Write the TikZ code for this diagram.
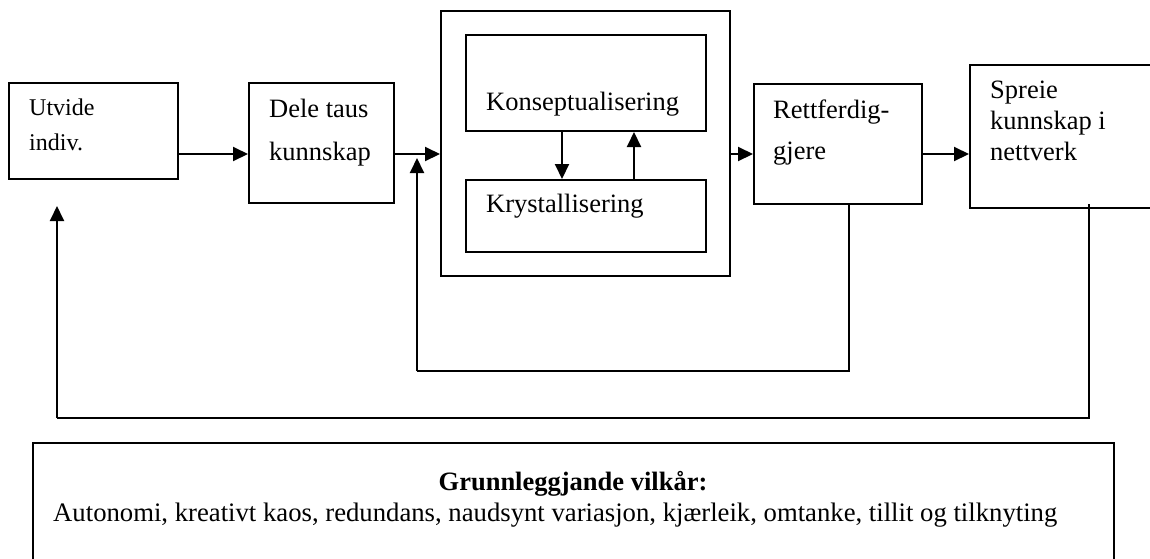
\documentclass[tikz,border=0pt]{standalone}
\usepackage{fontspec}
\setmainfont{Liberation Serif}
\usepackage{tikz}
\usetikzlibrary{positioning,calc,arrows.meta}

\begin{document}
\begin{tikzpicture}[x=1pt,y=-1pt, line cap=butt, line join=miter]
	% ===== ramme =====
	\useasboundingbox (0,0) rectangle (1150,558);
	
	% ===== stilar =====
	\tikzset{
		boks/.style={draw, line width=2pt, inner sep=0pt, anchor=north west},
		tekst/.style={inner sep=0pt, anchor=base west, align=left, font=\fontsize{26.5}{43}\selectfont},
		pil/.style={line width=2pt, -{Triangle[length=15pt,width=14pt]}},
		linje/.style={line width=2pt}
	}
	
	% ===== boksar =====
	\node[boks, minimum width=169pt, minimum height=96pt]  (utv)  at (8,82)   {};
	\node[boks, minimum width=145pt, minimum height=120pt] (dele) at (248,82) {};
	\node[boks, minimum width=289pt, minimum height=265pt] (ytre) at (440,10) {};
	\node[boks, minimum width=240pt, minimum height=96pt]  (kons) at (465,34) {};
	\node[boks, minimum width=240pt, minimum height=72pt]  (krys) at (465,179) {};
	\node[boks, minimum width=168pt, minimum height=120pt] (rett) at (753,83) {};
	\node[boks, minimum width=200pt, minimum height=143pt] (spre) at (969,64) {};
	\node[boks, minimum width=1081pt, minimum height=140pt] (vilk) at (32,442) {};
	
	% ===== tekstar (base = siste linje) =====
	\node[tekst, font=\fontsize{24}{35}\selectfont] (tutv) at (29,150) {Utvide\\indiv.};
	\node[tekst] (tdele) at (269,160) {Dele taus\\kunnskap};
	\node[tekst] (tkons) at (486,110) {Konseptualisering};
	\node[tekst] (tkrys) at (486,212) {Krystallisering};
	\node[tekst, font=\fontsize{26.5}{41}\selectfont] (trett) at (773,159) {Rettferdig-\\gjere};
	\node[tekst, font=\fontsize{26.5}{31}\selectfont] (tspre) at (990,160) {Spreie\\kunnskap i\\nettverk};
	\node[inner sep=0pt, anchor=base, font=\fontsize{26.5}{31}\selectfont\bfseries] (tvilk) at (573,490) {Grunnleggjande vilkår:};
	\node[tekst, font=\fontsize{26.7}{31}\selectfont] (tliste) at (53,521) {Autonomi, kreativt kaos, redundans, naudsynt variasjon, kjærleik, omtanke, tillit og tilknyting};
	
	% ===== pilar =====
	\coordinate (hl) at (0,154);
	\draw[pil] (utv.east |- hl) -- (dele.west |- hl);
	\draw[pil] (dele.east |- hl) -- (ytre.west |- hl);
	\draw[pil] (ytre.east |- hl) -- (rett.west |- hl);
	\draw[pil] (rett.east |- hl) -- (spre.west |- hl);
	\draw[pil] ([xshift=-24pt]kons.south) -- ([xshift=-24pt]krys.north);
	\draw[pil] ([xshift=48pt]krys.north) -- ([xshift=48pt]kons.south);
	
	% ===== tilbakekopling =====
	\coordinate (r1) at (849,371);
	\coordinate (r2) at (1089,418);
	\draw[linje] (rett.south -| r1) -- (r1) -- (417,371) coordinate (r1v);
	\draw[pil, shorten >=4pt] (r1v) -- (r1v |- hl);
	\draw[linje] ([yshift=5pt]spre.south -| r2) -- (r2) -- (57,418) coordinate (r2v);
	\draw[pil] (r2v) -- ([yshift=-26pt]utv.south -| r2v);
\end{tikzpicture}
\end{document}
